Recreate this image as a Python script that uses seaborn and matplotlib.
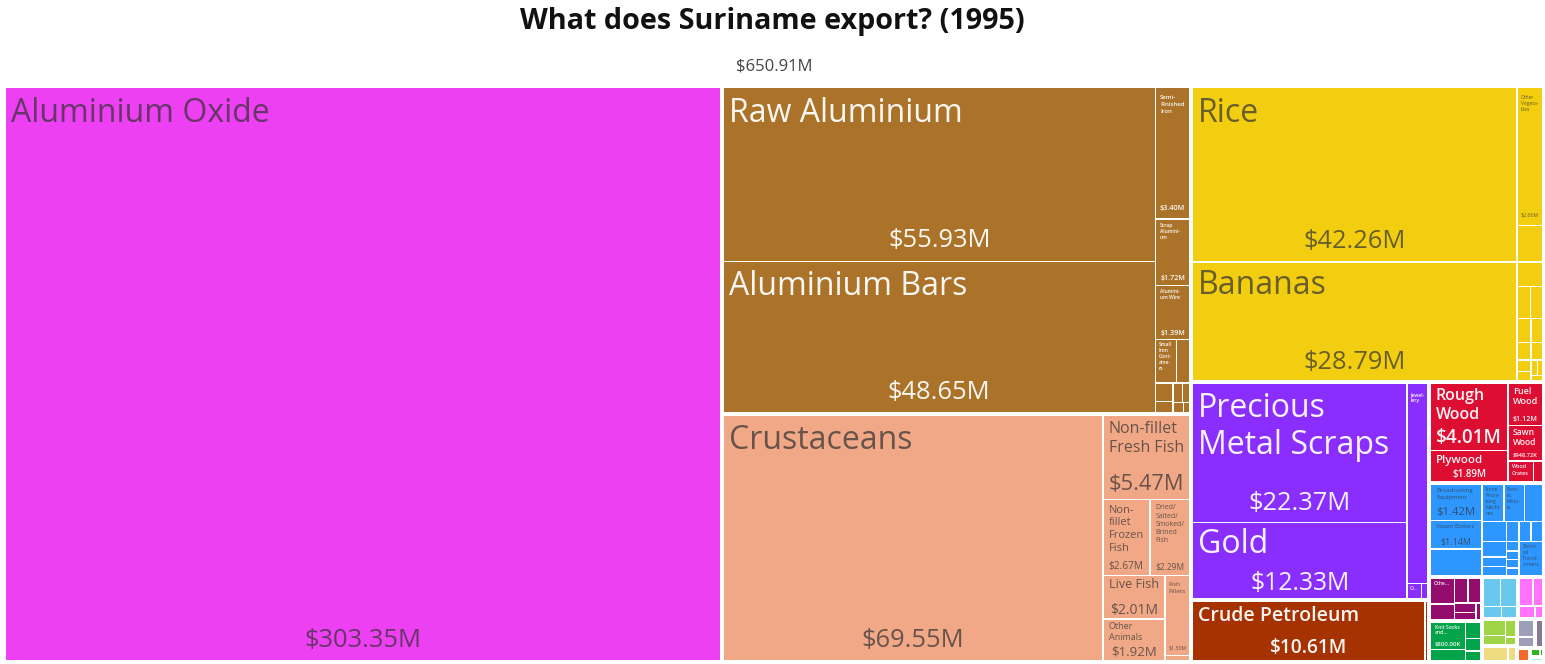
import re
import math
import matplotlib
matplotlib.use("Agg")
import matplotlib.pyplot as plt
from matplotlib.patches import Rectangle
from matplotlib.font_manager import FontProperties
import numpy as np
import pandas as pd
import seaborn as sns

# ---------------- data ----------------
title = "What does Suriname export? (1995)"

sectors = ["Chemical Products", "Metals", "Animal Products", "Vegetable Products",
           "Precious Metals", "Mineral Products", "Wood Products", "Machines",
           "Animal and Vegetable Bi-Products", "Textiles", "Transportation",
           "Plastics and Rubbers", "Foodstuffs", "Paper Goods", "Miscellaneous",
           "Arts and Antiques", "Footwear and Headwear", "Stone and Glass", "Instruments"]
sector_colors = ["#ED40F2", "#AA7329", "#F1A886", "#F3CE10",
                 "#892EFF", "#A53200", "#DD0E31", "#2E97FF",
                 "#930C6E", "#03A34A", "#69C8ED",
                 "#FF73FF", "#A0D447", "#EEDC82", "#9C9FB5",
                 "#8A7894", "#F26B2D", "#2EB51D", "#A5EFD5"]

chem_names = ["Aluminium Oxide"]
chem_values = [303.35]

metal_names = ["Raw Aluminium", "Aluminium Bars", "Semi-Finished Iron", "Scrap Aluminium",
               "Aluminium Wire", "Small Iron Containers", "", "", "", "", "", "", ""]
metal_values = [55.93, 48.65, 3.40, 1.72, 1.39, 0.68647, 0.445, 0.24, 0.15, 0.13, 0.11, 0.08, 0.05]

animal_names = ["Crustaceans", "Non-fillet Fresh Fish", "Non-fillet Frozen Fish",
                "Dried/Salted/Smoked/Brined Fish", "Live Fish", "Other Animals", "Fish Fillets", ""]
animal_values = [69.55, 5.47, 2.67, 2.29, 2.01, 1.92, 1.50, 0.10]

veg_names = ["Rice", "Bananas", "Other Vegetables", "", "", "", "", "", "", "", "", "", "", "", "", ""]
veg_values = [42.26, 28.79, 2.66, 0.70, 0.47, 0.33, 0.29, 0.25, 0.21, 0.18, 0.15, 0.12, 0.10,
              0.08, 0.06, 0.05]

precious_names = ["Precious Metal Scraps", "Gold", "Jewellery", "Other Precious Metals", ""]
precious_values = [22.37, 12.33, 3.08, 0.17, 0.07]

mineral_names = ["Crude Petroleum", ""]
mineral_values = [10.61, 0.12]

wood_names = ["Rough Wood", "Plywood", "Fuel Wood", "Sawn Wood", "Wood Crates", ""]
wood_values = [4.01, 1.89, 1.12, 0.94872, 0.42, 0.15]

machine_names = ["Broadcasting Equipment", "Steam Boilers", "", "Stone Processing Machines",
                 "Electric Motors", "", "", "", "", "", "", "", "", "", "", "", "",
                 "Electrical Transformers"]
machine_values = [1.42, 1.14, 1.06, 0.62, 0.58, 0.52, 0.38, 0.30, 0.18, 0.17, 0.19, 0.18, 0.18,
                  0.09, 0.08, 0.08, 0.07, 0.62736]

biprod_names = ["Other Vegetable Oils", "", "", "", "", "", ""]
biprod_values = [0.52, 0.30, 0.28, 0.25, 0.17, 0.12, 0.06]

textile_names = ["Knit Socks and Hosiery", "", "", "", ""]
textile_values = [0.80, 0.33, 0.20, 0.15, 0.12]

transport_names = ["", "", "", ""]
transport_values = [0.42, 0.38, 0.18, 0.14]

plastic_names = ["", "", "", ""]
plastic_values = [0.34, 0.24, 0.16, 0.08]

food_names = ["", "", "", ""]
food_values = [0.30, 0.18, 0.15, 0.07]

paper_names = ["", ""]
paper_values = [0.32, 0.10]

misc_names = ["", ""]
misc_values = [0.24, 0.14]

arts_names = [""]
arts_values = [0.20]

footwear_names = [""]
footwear_values = [0.13]

stone_names = ["", ""]
stone_values = [0.07, 0.02]

instr_names = [""]
instr_values = [0.05]

leaf_names = [chem_names, metal_names, animal_names, veg_names, precious_names, mineral_names,
              wood_names, machine_names, biprod_names, textile_names, transport_names,
              plastic_names, food_names, paper_names, misc_names, arts_names, footwear_names,
              stone_names, instr_names]
leaf_values = [chem_values, metal_values, animal_values, veg_values, precious_values, mineral_values,
               wood_values, machine_values, biprod_values, textile_values, transport_values,
               plastic_values, food_values, paper_values, misc_values, arts_values, footwear_values,
               stone_values, instr_values]

rows = []
for s, c, ns, vs in zip(sectors, sector_colors, leaf_names, leaf_values):
    for n, v in zip(ns, vs):
        rows.append({"sector": s, "color": c, "name": n, "value": v})
df = pd.DataFrame(rows)

# ---------------- setup ----------------
sns.set_theme(style="white")
FAMILY = ["Open Sans", "DejaVu Sans"]
plt.rcParams["font.family"] = FAMILY

W, H, DPI = 1545, 664, 100
fig = plt.figure(figsize=(W / DPI, H / DPI), dpi=DPI)
fig.patch.set_facecolor("white")
ax = fig.add_axes([0, 0, 1, 1])
ax.set_xlim(0, W)
ax.set_ylim(H, 0)
ax.axis("off")
renderer = fig.canvas.get_renderer()

PHI = (1 + 5 ** 0.5) / 2


def squarify(values, x0, y0, x1, y1, ratio=PHI):
    n = len(values)
    rects = [None] * n
    value = float(sum(values))
    i0 = i1 = 0
    while i0 < n:
        dx, dy = x1 - x0, y1 - y0
        sumv = values[i1]
        i1 += 1
        minv = maxv = sumv
        alpha = max(dy / dx, dx / dy) / (value * ratio)
        beta = sumv * sumv * alpha
        minratio = max(maxv / beta, beta / minv)
        while i1 < n:
            nv = values[i1]
            s2 = sumv + nv
            mn, mx = min(minv, nv), max(maxv, nv)
            beta = s2 * s2 * alpha
            nr = max(mx / beta, beta / mn)
            if nr > minratio:
                break
            sumv, minv, maxv, minratio = s2, mn, mx, nr
            i1 += 1
        idx = range(i0, i1)
        if dx < dy:
            yb = y0 + dy * sumv / value
            xx = x0
            for i in idx:
                ww = (x1 - x0) * values[i] / sumv
                rects[i] = (xx, y0, xx + ww, yb)
                xx += ww
            y0 = yb
        else:
            xb = x0 + dx * sumv / value
            yy = y0
            for i in idx:
                hh = (y1 - y0) * values[i] / sumv
                rects[i] = (x0, yy, xb, yy + hh)
                yy += hh
            x0 = xb
        value -= sumv
        i0 = i1
    return rects


_cache = {}


def measure(s, fs, weight):
    key = (s, round(fs, 2), weight)
    if key not in _cache:
        fp = FontProperties(family=FAMILY, size=fs * 72 / DPI, weight=weight)
        w, h, d = renderer.get_text_width_height_descent(s, fp, ismath=False)
        _cache[key] = w
    return _cache[key]


def pieces_of(word):
    return re.findall(r"[^-/]+[-/]?|[-/]", word)


def hyphenate(p, fs, aw, weight):
    chunks = []
    rest = p
    while measure(rest, fs, weight) > aw:
        k = len(rest) - 2
        while k >= 2 and measure(rest[:k] + "-", fs, weight) > aw:
            k -= 1
        if k < 2:
            return None
        chunks.append(rest[:k] + "-")
        rest = rest[k:]
    chunks.append(rest)
    return chunks


def wrap(label, fs, aw, weight, hyph=True):
    lines, cur = [], ""
    for w in label.split():
        for j, p in enumerate(pieces_of(w)):
            cand = (cur + (" " if j == 0 else "") + p) if cur else p
            if measure(cand, fs, weight) <= aw:
                cur = cand
                continue
            if cur:
                lines.append(cur)
                cur = ""
            if measure(p, fs, weight) <= aw:
                cur = p
            else:
                if not hyph:
                    return None
                ch = hyphenate(p, fs, aw, weight)
                if ch is None:
                    return None
                lines.extend(ch[:-1])
                cur = ch[-1]
    if cur:
        lines.append(cur)
    return lines


def fmt(v):
    if v >= 1:
        return f"${v:.2f}M"
    return f"${v * 1000:.2f}K"


MAXF, MAXV, MINF, LH = 32.0, 25.5, 5.0, 1.17


def fit_text(label, v, w, h, wfn):
    px = min(5.0, max(2.0, 0.12 * w))
    py = min(8.0, max(2.0, 0.05 * h))
    aw, ah = w - 2 * px, h - 2 * py
    if not label or aw < 8 or ah < 5:
        return None
    vstr = fmt(v)
    v10 = measure(vstr, 10.0, wfn(10.0)) / 10.0
    vfs = min(MAXV, 0.33 * h, aw / v10)
    show_v = vfs >= MINF
    lab_h = ah - (vfs * 1.1 if show_v else 0.0)
    if lab_h < MINF:
        return None
    wt = wfn(MAXF)
    pieces = [p for wd in label.split() for p in pieces_of(wd)]
    maxpw = max(measure(p, 10.0, wt) for p in pieces) / 10.0
    fs0 = min(MAXF, aw / maxpw)
    tot = measure(label, 10.0, wt) / 10.0 * MAXF
    text_area = tot * LH * MAXF * (1.165 + aw / lab_h * 0.1)
    box_area = aw * lab_h
    if text_area > box_area:
        fs0 = min(fs0, MAXF * math.sqrt(box_area / text_area))
    fs = max(math.floor(fs0 * 2) / 2, MINF)
    while fs >= MINF:
        lines = wrap(label, fs, aw, wfn(fs))
        if lines is not None and len(lines) * LH * fs <= lab_h:
            return px, py, fs, lines, (vfs if show_v else None)
        fs -= 0.5
    # truncated label
    fs = MINF
    wt = wfn(fs)
    words = label.split()
    max_lines = int(lab_h // (LH * fs))
    if max_lines < 1:
        return None
    for k in range(len(words) - 1, 0, -1):
        s = " ".join(words[:k]) + "..."
        ln = wrap(s, fs, aw, wt, hyph=False)
        if ln is not None and len(ln) <= max_lines:
            return px, py, fs, ln, (vfs if show_v else None)
    first = words[0]
    for c in range(len(first) - 1, 0, -1):
        s = first[:c] + "..."
        if measure(s, fs, wt) <= aw:
            return px, py, fs, [s], None
    return None


def is_dark_bg(hexcol):
    r, g, b = [int(hexcol[i:i + 2], 16) for i in (1, 3, 5)]
    return (r * 299 + g * 587 + b * 114) / 1000 < 128


# ---------------- draw ----------------
ROOT = (4.0, 86.0, 1544.0, 662.0)
SPAD, LPAD = 1.25, 0.75

sector_totals = [float(np.sum(v)) for v in leaf_values]
total = float(np.sum(sector_totals))
srects = squarify(sector_totals, *ROOT)
pal = sns.color_palette(sector_colors)

for si, (sname, col, names, vals) in enumerate(zip(sectors, sector_colors, leaf_names, leaf_values)):
    sx0, sy0, sx1, sy1 = srects[si]
    inner = (sx0 + SPAD, sy0 + SPAD, sx1 - SPAD, sy1 - SPAD)
    lrects = squarify(vals, *inner)
    dark = is_dark_bg(col)
    tcol = "#FFFFFF" if dark else "#333333"
    talpha = 0.95 if dark else 0.72
    wfn = (lambda fs: "semibold" if fs < 24 else "normal") if dark else (lambda fs: "normal")
    for (x0, y0, x1, y1), nm, v in zip(lrects, names, vals):
        x0, y0, x1, y1 = x0 + LPAD, y0 + LPAD, x1 - LPAD, y1 - LPAD
        ax.add_patch(Rectangle((x0, y0), x1 - x0, y1 - y0, facecolor=pal[si], edgecolor="none", lw=0))
        res = fit_text(nm, v, x1 - x0, y1 - y0, wfn)
        if res is None:
            continue
        px, py, fs, lines, vfs = res
        for li, line in enumerate(lines):
            ax.text(x0 + px, y0 + py + 0.80 * fs + li * LH * fs, line, ha="left", va="baseline",
                    fontsize=fs * 72 / DPI, color=tcol, alpha=talpha, weight=wfn(fs),
                    parse_math=False)
        if vfs is not None:
            vy = y1 - py - 0.20 * vfs
            ax.text((x0 + x1) / 2, vy, fmt(v), ha="center", va="baseline",
                    fontsize=vfs * 72 / DPI, color=tcol, alpha=talpha, weight=wfn(vfs),
                    parse_math=False)

ax.text((ROOT[0] + ROOT[2]) / 2, 67, fmt(total), ha="center", va="center",
        fontsize=12, color="#444444", parse_math=False)
fig.text(0.5, 1 - 22 / H, title, ha="center", va="center", fontsize=20.7, weight="bold",
         color="#111111")

fig.savefig("out.png", dpi=DPI, facecolor="white")
